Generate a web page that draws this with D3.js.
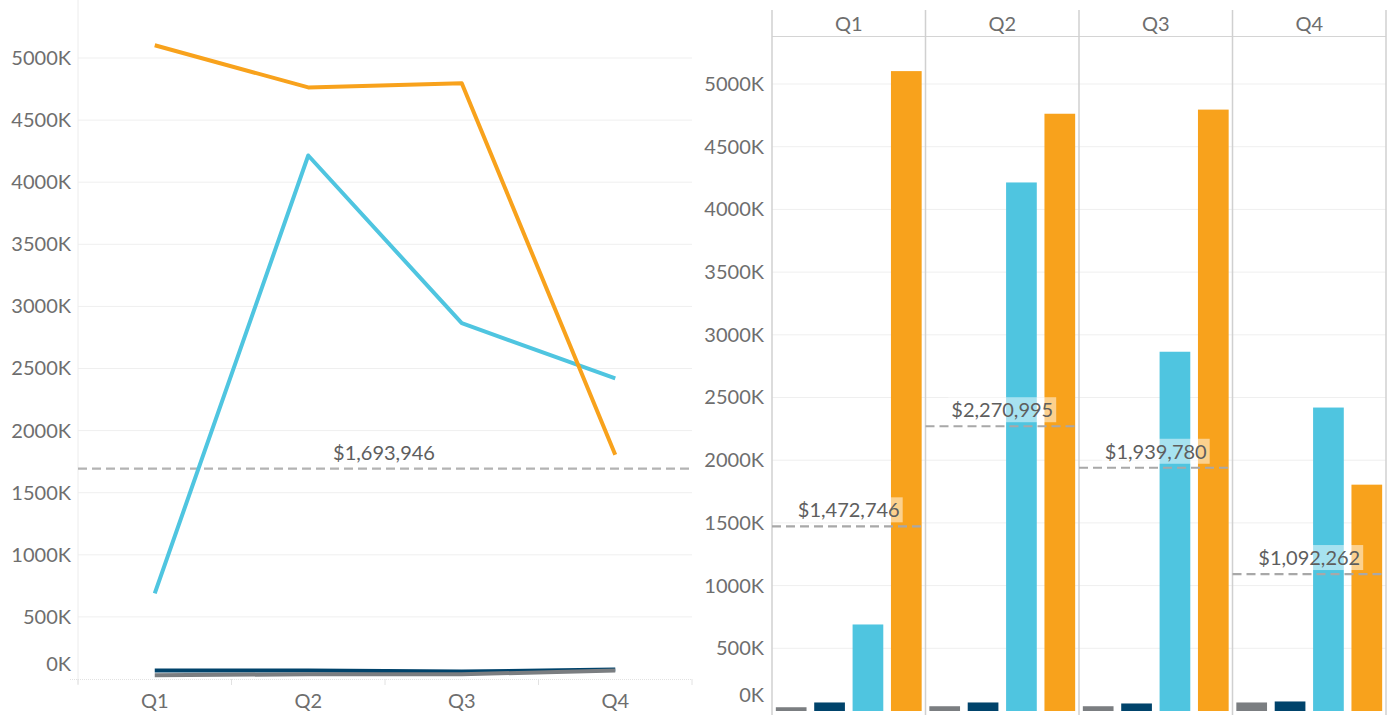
<!DOCTYPE html>
<html><head><meta charset="utf-8">
<script src="https://cdn.jsdelivr.net/npm/d3@7"></script>
<style>body{margin:0;background:#fff}svg{display:block;font-family:Lato,"Open Sans",sans-serif}</style>
</head><body>
<script>
const quarters = ["Q1","Q2","Q3","Q4"];
const seriesNames = ["Gray","Navy","Cyan","Orange"];
const seriesColors = ["#7b7e81","#00436b","#4fc5e0","#f8a21c"];
const grayValues   = [30000, 38000, 38000, 68000];
const navyValues   = [68000, 68000, 60000, 76000];
const cyanValues   = [690000, 4215000, 2865000, 2420000];
const orangeValues = [5103000, 4763000, 4796000, 1805000];
const quarterAverages = [1472746, 2270995, 1939780, 1092262];
const overallAverage = 1693946;
const yTickValues = [0,500000,1000000,1500000,2000000,2500000,3000000,3500000,4000000,4500000,5000000];

const series = seriesNames.map((n,i)=>({name:n,color:seriesColors[i],values:[grayValues,navyValues,cyanValues,orangeValues][i]}));
const fmtK = d => d3.format("d")(d/1000)+"K";
const fmtMoney = d3.format("$,.0f");
const textColor = "#6e6e6e";

const W=1390,H=715;
const svg = d3.select("body").append("svg").attr("width",W).attr("height",H);

// ---------- LEFT: line chart ----------
const xL = d3.scaleBand().domain(quarters).range([78,692]);
const yL = d3.scaleLinear().domain([0,5467000]).range([679,0]);
const gL = svg.append("g");
gL.selectAll("line.grid").data(yTickValues.filter(d=>d>0)).join("line")
  .attr("x1",78).attr("x2",692).attr("y1",d=>yL(d)).attr("y2",d=>yL(d))
  .attr("stroke","#efefef").attr("stroke-width",1);
gL.append("line").attr("x1",78).attr("x2",78).attr("y1",0).attr("y2",684).attr("stroke","#ececec");
const axL = gL.append("g").attr("transform","translate(71,0)")
  .call(d3.axisLeft(yL).tickValues(yTickValues).tickFormat(fmtK).tickSize(0).tickPadding(0));
axL.select(".domain").remove();
axL.selectAll("text").attr("fill",textColor).style("font-size","20px").style("font-family","Lato,sans-serif")
  .attr("dy",d=>d===0?"-0.45em":"0.32em");
// bottom axis
gL.append("line").attr("x1",70).attr("x2",692).attr("y1",679.5).attr("y2",679.5)
  .attr("stroke","#e2e2e2").attr("stroke-dasharray","1,1");
const xBounds = quarters.map(q=>xL(q)).concat([xL.range()[1]]);
gL.selectAll("line.xt").data(xBounds).join("line")
  .attr("x1",d=>d).attr("x2",d=>d).attr("y1",679).attr("y2",685).attr("stroke","#e2e2e2");
gL.selectAll("text.xl").data(quarters).join("text")
  .attr("x",d=>xL(d)+xL.bandwidth()/2).attr("y",708).attr("text-anchor","middle")
  .attr("fill",textColor).style("font-size","20px").text(d=>d);
// reference line
gL.append("line").attr("x1",78).attr("x2",692).attr("y1",yL(overallAverage)).attr("y2",yL(overallAverage))
  .attr("stroke","#b3b3b3").attr("stroke-width",2.2).attr("stroke-dasharray","9,5");
gL.append("text").attr("x",384).attr("y",yL(overallAverage)-9).attr("text-anchor","middle")
  .attr("fill","#5e5e5e").style("font-size","20px").text(fmtMoney(overallAverage));
const line = d3.line().x((d,i)=>xL(quarters[i])+xL.bandwidth()/2).y(d=>yL(d));
[1,0,2,3].forEach(i=>{
  gL.append("path").attr("d",line(series[i].values)).attr("fill","none")
    .attr("stroke",series[i].color).attr("stroke-width",4).attr("stroke-linejoin","round");
});

// ---------- RIGHT: faceted bars ----------
const fx = d3.scaleBand().domain(quarters).range([772,1386]);
const xb = d3.scaleBand().domain(seriesNames).range([0,fx.bandwidth()]).paddingInner(0.2).paddingOuter(0.1);
const yR = d3.scaleLinear().domain([0,5383000]).range([711,36]);
const gR = svg.append("g");
gR.selectAll("line.grid").data(yTickValues.filter(d=>d>0)).join("line")
  .attr("x1",772).attr("x2",1386).attr("y1",d=>yR(d)).attr("y2",d=>yR(d))
  .attr("stroke","#efefef").attr("stroke-width",1);
const axR = gR.append("g").attr("transform","translate(764,0)")
  .call(d3.axisLeft(yR).tickValues(yTickValues).tickFormat(fmtK).tickSize(0).tickPadding(0));
axR.select(".domain").remove();
axR.selectAll("text").attr("fill",textColor).style("font-size","20px").style("font-family","Lato,sans-serif")
  .attr("dy",d=>d===0?"-0.5em":"0.32em");
// headers
gR.selectAll("text.hd").data(quarters).join("text")
  .attr("x",d=>fx(d)+fx.bandwidth()/2).attr("y",31).attr("text-anchor","middle")
  .attr("fill",textColor).style("font-size","20px").text(d=>d);
gR.append("line").attr("x1",772).attr("x2",1386).attr("y1",36.5).attr("y2",36.5).attr("stroke","#d4d4d4").attr("stroke-width",1.2);
// bars
quarters.forEach((q,qi)=>{
  const gf = gR.append("g").attr("transform",`translate(${fx(q)},0)`);
  gf.selectAll("rect").data(series).join("rect")
    .attr("x",d=>xb(d.name)).attr("width",xb.bandwidth())
    .attr("y",d=>yR(d.values[qi])).attr("height",d=>yR(0)-yR(d.values[qi]))
    .attr("fill",d=>d.color);
});
// facet separators
gR.selectAll("line.sep").data(quarters.map(q=>fx(q)).concat([fx.range()[1]])).join("line")
  .attr("x1",d=>d).attr("x2",d=>d).attr("y1",10).attr("y2",H).attr("stroke","#d0d0d0").attr("stroke-width",1.5);
// reference lines + labels
quarters.forEach((q,qi)=>{
  const v = quarterAverages[qi], yy = yR(v);
  gR.append("line").attr("x1",fx(q)).attr("x2",fx(q)+fx.bandwidth()).attr("y1",yy).attr("y2",yy)
    .attr("stroke","#a8a8a8").attr("stroke-width",2.2).attr("stroke-dasharray","9,5");
  const lg = gR.append("g");
  const t = lg.append("text").attr("x",fx(q)+fx.bandwidth()/2).attr("y",yy-9).attr("text-anchor","middle")
    .attr("fill","#5e5e5e").style("font-size","20px").text(fmtMoney(v));
  const bb = t.node().getBBox();
  lg.insert("rect","text").attr("x",bb.x-3).attr("y",bb.y).attr("width",bb.width+6).attr("height",bb.height+1)
    .attr("fill","#fff").attr("fill-opacity",0.5);
});
</script>
</body></html>
